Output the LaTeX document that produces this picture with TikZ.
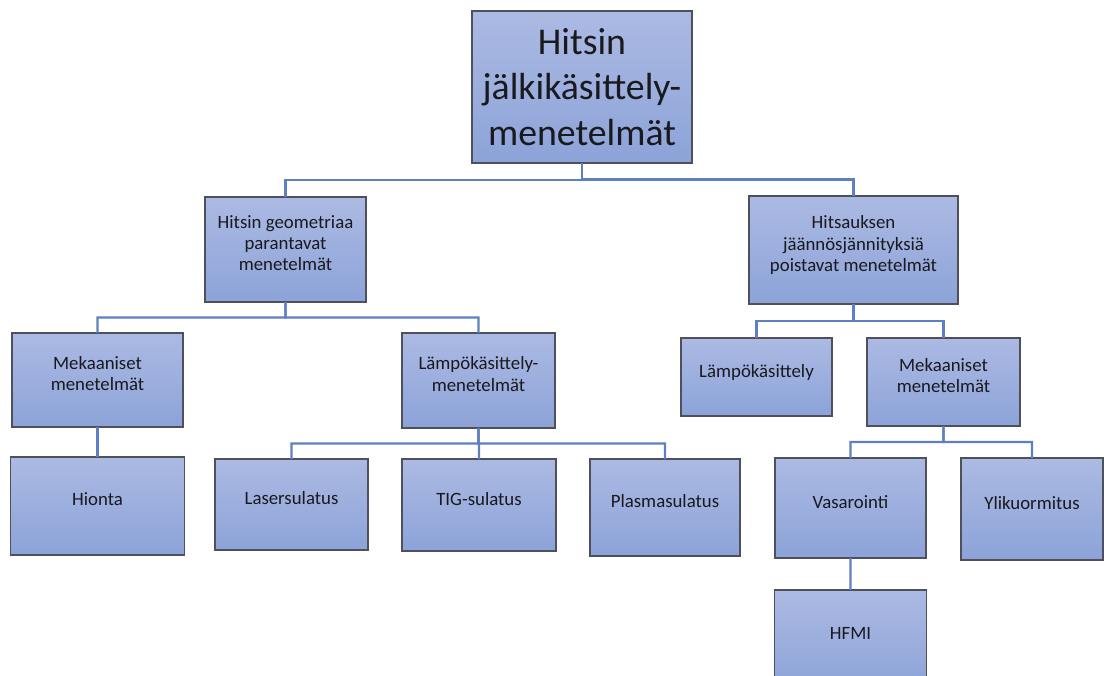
\documentclass[tikz,border=0pt]{standalone}
\usepackage{fontspec}
\setmainfont{Carlito}
\usetikzlibrary{calc}
\definecolor{boxtop}{RGB}{172,186,227}
\definecolor{boxbot}{RGB}{140,163,216}
\definecolor{boxline}{RGB}{78,80,92}
\definecolor{linkblue}{RGB}{94,128,194}
\definecolor{ink}{RGB}{25,25,30}
\begin{document}
\begin{tikzpicture}
	\tikzset{
		box/.style={rectangle,draw=boxline,line width=0.8pt,top color=boxtop,bottom color=boxbot,
			text=ink,align=center,inner sep=0pt,outer sep=0pt,font=\fontsize{10.7}{12}\selectfont,text depth=0.26cm},
		headbox/.style={box,font=\fontsize{21.5}{26}\selectfont,text depth=},
		link/.style={draw=linkblue,line width=1.3pt,
			to path={(\tikztostart) -- ($(\tikztostart)!0.5!(\tikztostart |- \tikztotarget)$) -| (\tikztotarget)}}
	}
	\clip (0,0) rectangle (22.08,-13.5);
	% levels 1 and 2
	\node[headbox,minimum width=4.40cm,minimum height=3.04cm](head)at(11.64,-1.74){Hitsin\\jälkikäsittely-\\menetelmät};
	\node[box,minimum width=3.22cm,minimum height=2.10cm](geom)at(5.71,-4.99){Hitsin geometriaa\\parantavat\\menetelmät};
	\node[box,minimum width=4.18cm,minimum height=2.16cm](residual)at(17.07,-5.00){Hitsauksen\\jäännösjännityksiä\\poistavat menetelmät};
	% left branch
	\node[box,minimum width=3.42cm,minimum height=1.88cm](mech-l)at(1.95,-7.60){Mekaaniset\\menetelmät};
	\node[box,minimum width=3.06cm,minimum height=1.90cm](heat-l)at(9.57,-7.61){Lämpökäsittely-\\menetelmät};
	\node[box,minimum width=3.48cm,minimum height=1.96cm](grind)at(1.95,-10.12){Hionta};
	\node[box,minimum width=3.06cm,minimum height=1.82cm](laser)at(5.83,-10.09){Lasersulatus};
	\node[box,minimum width=3.08cm,minimum height=1.84cm](tig)at(9.58,-10.10){TIG-sulatus};
	\node[box,minimum width=3.00cm,minimum height=1.94cm](plasma)at(13.30,-10.15){Plasmasulatus};
	% right branch
	\node[box,minimum width=3.02cm,minimum height=1.56cm](heat-r)at(15.13,-7.54){Lämpökäsittely};
	\node[box,minimum width=3.06cm,minimum height=1.76cm](mech-r)at(18.87,-7.64){Mekaaniset\\menetelmät};
	\node[box,minimum width=3.02cm,minimum height=2.00cm](hammer)at(17.01,-10.16){Vasarointi};
	\node[box,minimum width=2.84cm,minimum height=2.04cm](overload)at(20.64,-10.18){Ylikuormitus};
	\node[box,minimum width=3.04cm,minimum height=2.00cm](hfmi)at(17.01,-12.80){HFMI};
	\path[link] (head.south) edge (geom.north) edge (residual.north);
	\path[link] (geom.south) edge (mech-l.north) edge (heat-l.north);
	\path[link] (mech-l.south) edge (grind.north);
	\path[link] (heat-l.south) edge (laser.north) edge (tig.north) edge (plasma.north);
	\path[link] (residual.south) edge (heat-r.north) edge (mech-r.north);
	\path[link] (mech-r.south) edge (hammer.north) edge (overload.north);
	\path[link] (hammer.south) edge (hfmi.north);
\end{tikzpicture}
\end{document}
